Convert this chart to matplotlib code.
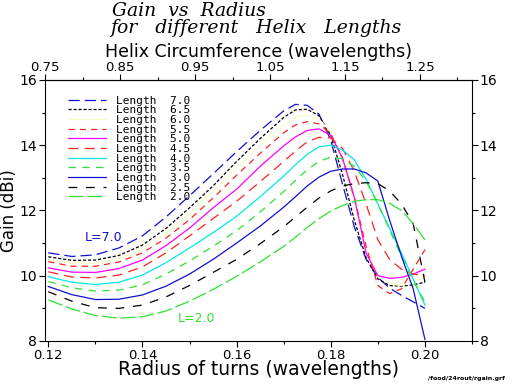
import numpy as np
import matplotlib
matplotlib.use('Agg')
import matplotlib.pyplot as plt

# radius of turns (wavelengths)
radius = [0.120, 0.125, 0.130, 0.135, 0.140, 0.145, 0.150, 0.155, 0.160, 0.165,
          0.170, 0.1725, 0.175, 0.1775, 0.180, 0.1825, 0.185, 0.1875, 0.190,
          0.1925, 0.195, 0.1975, 0.200]

# gain (dBi) for each helix length
gain_70 = [10.70, 10.59, 10.64, 10.85, 11.22, 11.80, 12.45, 13.12, 13.80, 14.45, 15.05, 15.25,
           15.22, 14.95, 14.15, 12.80, 11.50, 10.50, 9.95, 9.62, 9.40, 9.20, 9.00]
gain_65 = [10.58, 10.47, 10.48, 10.62, 10.94, 11.45, 12.08, 12.75, 13.50, 14.20, 14.85, 15.08,
           15.10, 14.90, 14.30, 13.10, 11.70, 10.55, 9.90, 9.70, 9.68, 9.72, 9.80]
gain_60 = [10.50, 10.38, 10.38, 10.52, 10.82, 11.30, 11.90, 12.58, 13.30, 13.98, 14.60, 14.85,
           14.92, 14.80, 14.40, 13.50, 12.20, 10.90, 10.05, 9.75, 9.70, 9.80, 10.00]
gain_55 = [10.43, 10.29, 10.29, 10.42, 10.70, 11.15, 11.72, 12.38, 13.08, 13.75, 14.38, 14.62,
           14.72, 14.65, 14.35, 13.60, 12.40, 10.90, 9.70, 9.45, 9.60, 10.20, 10.80]
gain_50 = [10.24, 10.11, 10.10, 10.22, 10.48, 10.92, 11.46, 12.08, 12.65, 13.35, 13.98, 14.25,
           14.45, 14.50, 14.30, 13.60, 12.40, 10.70, 10.00, 9.92, 9.95, 10.05, 10.20]
gain_45 = [10.12, 9.96, 9.93, 10.02, 10.27, 10.70, 11.22, 11.75, 12.28, 12.88, 13.50, 13.82,
           14.10, 14.24, 14.22, 13.90, 13.20, 12.20, 11.10, 10.50, 10.20, 10.05, 10.00]
gain_40 = [9.97, 9.80, 9.73, 9.80, 10.02, 10.40, 10.85, 11.32, 11.82, 12.42, 13.05, 13.40,
           13.72, 13.95, 14.00, 13.85, 13.55, 12.95, 12.20, 11.45, 10.70, 9.90, 9.10]
gain_35 = [9.82, 9.63, 9.53, 9.56, 9.72, 10.05, 10.45, 10.90, 11.38, 11.95, 12.58, 12.92,
           13.25, 13.50, 13.63, 13.58, 13.35, 12.90, 12.20, 11.40, 10.60, 9.85, 9.20]
gain_30 = [9.67, 9.42, 9.27, 9.28, 9.41, 9.68, 10.05, 10.50, 11.00, 11.52, 12.10, 12.42,
           12.75, 13.02, 13.20, 13.27, 13.27, 13.15, 12.90, 11.70, 10.60, 9.60, 8.05]
gain_25 = [9.51, 9.22, 9.02, 9.00, 9.10, 9.35, 9.70, 10.10, 10.50, 10.98, 11.50, 11.80,
           12.10, 12.38, 12.60, 12.75, 12.82, 12.85, 12.82, 12.60, 12.20, 11.60, 9.80]
gain_20 = [9.26, 8.98, 8.78, 8.70, 8.74, 8.92, 9.22, 9.58, 9.98, 10.42, 10.90, 11.18,
           11.48, 11.75, 11.98, 12.15, 12.28, 12.33, 12.33, 12.22, 12.00, 11.60, 11.10]

labels = ['Length  7.0', 'Length  6.5', 'Length  6.0', 'Length  5.5', 'Length  5.0',
          'Length  4.5', 'Length  4.0', 'Length  3.5', 'Length  3.0', 'Length  2.5',
          'Length  2.0']
gains = [gain_70, gain_65, gain_60, gain_55, gain_50, gain_45, gain_40, gain_35,
         gain_30, gain_25, gain_20]

# style of each curve (colour, dash pattern)
styles = [('#1010d0', (0, (9, 4))),
          ('black', (0, (2.5, 1.5))),
          ('#fbfbc8', '-'),
          ('#ff2020', (0, (5, 4))),
          ('#ff00ff', '-'),
          ('#ff2020', (0, (8, 5))),
          ('#00e8e8', '-'),
          ('#30e030', (0, (6, 5))),
          ('#1010d0', '-'),
          ('black', (0, (7, 7))),
          ('#30e030', (0, (12, 3)))]

fig = plt.figure(figsize=(5.12, 3.84), dpi=100)
ax = fig.add_axes([0.0879, 0.112, 0.834, 0.68])

for g, lab, (col, ls) in zip(gains, labels, styles):
    ax.plot(radius, g, color=col, linestyle=ls, linewidth=0.9, label=lab)

ax.set_xlim(0.1193, 0.2099)
ax.set_ylim(8, 16)
ax.set_xticks([0.12, 0.14, 0.16, 0.18, 0.20])
ax.set_xticklabels(['0.12', '0.14', '0.16', '0.18', '0.20'])
ax.set_xticks([0.13, 0.15, 0.17, 0.19, 0.21], minor=True)
ax.set_yticks([8, 10, 12, 14, 16])
ax.set_yticks([9, 11, 13, 15], minor=True)
ax.tick_params(axis='both', which='major', direction='out', length=4, width=0.8,
               labelsize=9.5, pad=1.5)
ax.tick_params(axis='both', which='minor', direction='out', length=2.5, width=0.8)
ax.tick_params(axis='y', right=True, labelright=True, which='both')
ax.tick_params(axis='y', labelsize=10)
ax.set_xlabel('Radius of turns (wavelengths)', fontsize=13.5, labelpad=-1)
ax.set_ylabel('Gain (dBi)', fontsize=12, labelpad=1)

top = ax.secondary_xaxis('top', functions=(lambda r: 2 * np.pi * r,
                                           lambda c: c / (2 * np.pi)))
top.set_xticks([0.75, 0.85, 0.95, 1.05, 1.15, 1.25])
top.set_xticklabels(['0.75', '0.85', '0.95', '1.05', '1.15', '1.25'])
top.set_xticks([0.80, 0.90, 1.00, 1.10, 1.20, 1.30], minor=True)
top.tick_params(which='major', direction='out', length=4, width=0.8, labelsize=9.5, pad=0.3)
top.tick_params(which='minor', direction='out', length=2.5, width=0.8)
top.set_xlabel('Helix Circumference (wavelengths)', fontsize=12.5, labelpad=3)

ax.legend(loc='upper left', bbox_to_anchor=(0.055, 0.94), frameon=False,
          prop={'family': 'DejaVu Sans Mono', 'size': 8}, handlelength=3.4,
          handletextpad=0.9, labelspacing=-0.03, borderpad=0, borderaxespad=0)

ax.text(0.1278, 11.16, 'L=7.0', color='#1010d0', fontsize=9, va='center')
ax.text(0.1474, 8.7, 'L=2.0', color='#30e030', fontsize=9, va='center')

fig.text(112 / 512, 1 - 16 / 384, 'Gain  vs  Radius', fontsize=13.5, family='DejaVu Serif',
         style='italic', va='baseline', ha='left')
fig.text(110 / 512, 1 - 33 / 384, 'for   different   Helix   Lengths', fontsize=13.5,
         family='DejaVu Serif', style='italic', va='baseline', ha='left')
fig.text(0.987, 0.008, '/food/24rout/rgain.grf', fontsize=4.5, weight='bold',
         ha='right', va='bottom')

fig.savefig('out.png', dpi=100)
